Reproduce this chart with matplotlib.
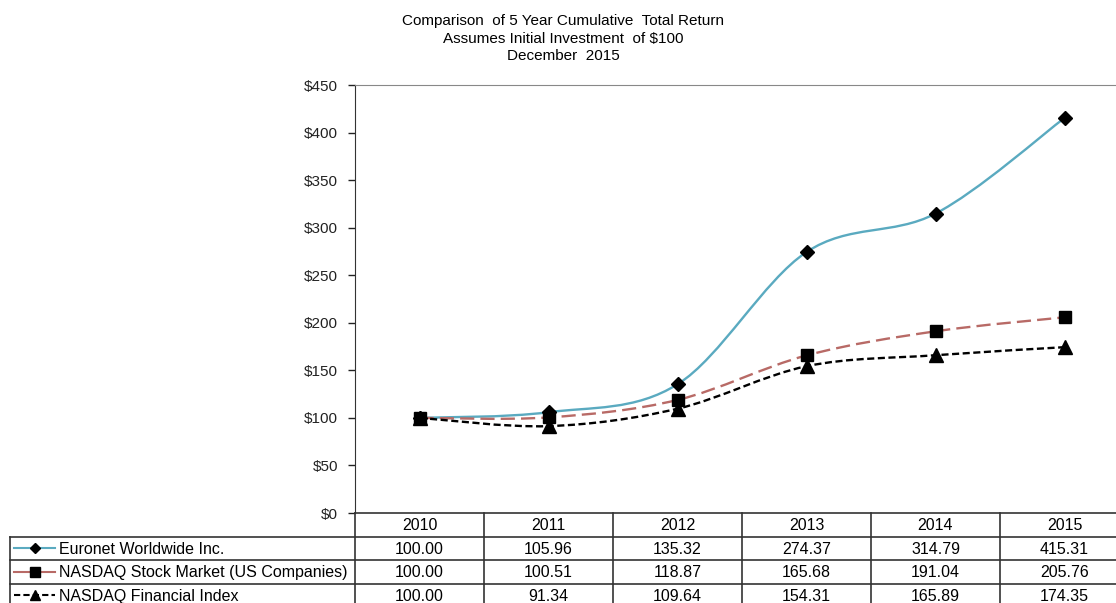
import numpy as np
import matplotlib
matplotlib.use("Agg")
import matplotlib.pyplot as plt
from matplotlib.path import Path
from matplotlib.patches import PathPatch

plt.rcParams['font.family'] = ['Liberation Sans', 'DejaVu Sans']

# data
years = ['2010', '2011', '2012', '2013', '2014', '2015']
euronet = [100.00, 105.96, 135.32, 274.37, 314.79, 415.31]
nasdaq_us = [100.00, 100.51, 118.87, 165.68, 191.04, 205.76]
nasdaq_fin = [100.00, 91.34, 109.64, 154.31, 165.89, 174.35]
series_names = ['Euronet Worldwide Inc.',
                'NASDAQ Stock Market (US Companies)',
                'NASDAQ Financial Index']
y_ticks = [0, 50, 100, 150, 200, 250, 300, 350, 400, 450]
title_lines = ['Comparison  of 5 Year Cumulative  Total Return',
               'Assumes Initial Investment  of $100',
               'December  2015']

styles = [
    dict(color='#5AAAC0', ls=(0, (10, 0)), marker='D', ms=7.5),
    dict(color='#B86A66', ls=(0, (6.0, 2.6)), marker='s', ms=8.5),
    dict(color='#000000', ls=(0, (3.0, 1.5)), marker='^', ms=9.5),
]
all_series = [euronet, nasdaq_us, nasdaq_fin]


def smooth_path(xs, ys):
    # excel style smoothed line: catmull-rom as cubic bezier
    pts = np.column_stack([xs, ys]).astype(float)
    n = len(pts)
    verts = [pts[0]]
    codes = [Path.MOVETO]
    for i in range(n - 1):
        p0 = pts[max(i - 1, 0)]
        p1 = pts[i]
        p2 = pts[i + 1]
        p3 = pts[min(i + 2, n - 1)]
        verts += [p1 + (p2 - p0) / 6, p2 - (p3 - p1) / 6, p2]
        codes += [Path.CURVE4] * 3
    return Path(verts, codes)


W, H = 1116, 603
fig = plt.figure(figsize=(W / 100, H / 100), dpi=100)

# main chart area (right edge runs off the image like the original)
ax = fig.add_axes([355 / W, 1 - 513 / H, 774 / W, 428 / H])
ax.set_xlim(0, 6)
ax.set_ylim(0, 450)
xs = np.arange(len(years)) + 0.5

for vals, st in zip(all_series, styles):
    ax.add_patch(PathPatch(smooth_path(xs, vals), fill=False, edgecolor=st['color'],
                           lw=1.7, linestyle=st['ls'], zorder=2))
    ax.plot(xs, vals, ls='none', marker=st['marker'], ms=st['ms'], color='k', zorder=3)

ax.set_yticks(y_ticks)
ax.set_yticklabels(['${}'.format(v) for v in y_ticks], fontsize=11)
ax.set_xticks([])
ax.tick_params(axis='y', direction='out', length=5, width=1, pad=7, colors='#222222')
ax.spines['left'].set_color('#333333')
ax.spines['top'].set_color('#888888')
ax.spines['right'].set_visible(False)
ax.spines['bottom'].set_visible(False)

for i, t in enumerate(title_lines):
    fig.text(563 / W, 1 - (20.5 + 18 * i) / H, t, ha='center', va='center', fontsize=11)

# data table below the chart
lab_left = -345 / 129
tax = fig.add_axes([10 / W, 1 - 607 / H, 1119 / W, 94 / H])
tax.set_xlim(lab_left, 6)
tax.set_ylim(4, 0)
tax.axis('off')

lc = '#333333'
tax.plot([0, 6], [0, 0], color=lc, lw=1.2, clip_on=False)
for r in (1, 2, 3, 4):
    tax.plot([lab_left, 6], [r, r], color=lc, lw=1.2, clip_on=False)
tax.plot([lab_left, lab_left], [1, 4], color=lc, lw=1.2, clip_on=False)
for c in range(7):
    tax.plot([c, c], [0, 4], color=lc, lw=1.2, clip_on=False)

for i, y in enumerate(years):
    tax.text(i + 0.5, 0.55, y, ha='center', va='center', fontsize=11.5)

key_x0, key_x1, key_m = (14 - 355) / 129, (55 - 355) / 129, (35 - 355) / 129
for r, (name, vals, st) in enumerate(zip(series_names, all_series, styles)):
    yr = r + 1.5
    tax.plot([key_x0, key_x1], [yr, yr], color=st['color'], lw=1.5,
             ls=st['ls'] if r == 2 else '-')
    tax.plot([key_m], [yr], marker=st['marker'], ms=st['ms'] - 2, color='k', ls='none')
    tax.text((59 - 355) / 129, yr + 0.05, name, ha='left', va='center', fontsize=11.5)
    for i, v in enumerate(vals):
        tax.text(i + 0.5, yr + 0.05, '{:.2f}'.format(v), ha='center', va='center', fontsize=11.5)

fig.savefig('out.png', dpi=100)
